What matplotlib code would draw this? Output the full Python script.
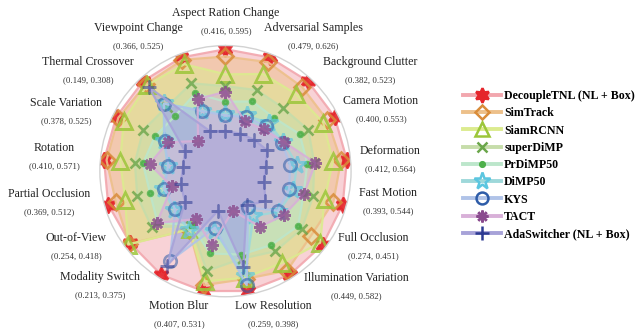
import numpy as np
import matplotlib
matplotlib.use("Agg")
import matplotlib.pyplot as plt
from matplotlib.lines import Line2D

plt.rcParams['font.family'] = ['Liberation Serif', 'DejaVu Serif']

# attribute names (clockwise from the top) and their (min, max) success ranges
attributes = ['Aspect Ration Change', 'Adversarial Samples', 'Background Clutter',
              'Camera Motion', 'Deformation', 'Fast Motion', 'Full Occlusion',
              'Illumination Variation', 'Low Resolution', 'Motion Blur',
              'Modality Switch', 'Out-of-View', 'Partial Occlusion', 'Rotation',
              'Scale Variation', 'Thermal Crossover', 'Viewpoint Change']
range_lo = [0.416, 0.479, 0.382, 0.400, 0.412, 0.393, 0.274, 0.449, 0.259,
            0.407, 0.213, 0.254, 0.369, 0.410, 0.378, 0.149, 0.366]
range_hi = [0.595, 0.626, 0.523, 0.553, 0.564, 0.544, 0.451, 0.582, 0.398,
            0.531, 0.375, 0.418, 0.512, 0.571, 0.525, 0.308, 0.525]

trackers = ['DecoupleTNL (NL + Box)', 'SimTrack', 'SiamRCNN', 'superDiMP',
            'PrDiMP50', 'DiMP50', 'KYS', 'TACT', 'AdaSwitcher (NL + Box)']

decoupletnl = [0.595, 0.626, 0.523, 0.553, 0.564, 0.544, 0.451, 0.582, 0.398,
               0.531, 0.375, 0.413, 0.512, 0.571, 0.525, 0.308, 0.525]
simtrack = [0.579, 0.617, 0.509, 0.538, 0.553, 0.526, 0.419, 0.574, 0.377,
            0.522, 0.270, 0.415, 0.498, 0.566, 0.521, 0.300, 0.520]
siamrcnn = [0.540, 0.594, 0.493, 0.529, 0.538, 0.509, 0.444, 0.559, 0.375,
            0.516, 0.268, 0.418, 0.481, 0.539, 0.510, 0.297, 0.511]
superdimp = [0.514, 0.563, 0.460, 0.498, 0.503, 0.487, 0.394, 0.537, 0.342,
             0.500, 0.262, 0.359, 0.459, 0.510, 0.471, 0.240, 0.471]
prdimp50 = [0.480, 0.541, 0.437, 0.480, 0.490, 0.469, 0.384, 0.525, 0.335,
            0.473, 0.260, 0.344, 0.436, 0.494, 0.447, 0.216, 0.450]
dimp50 = [0.454, 0.514, 0.424, 0.446, 0.471, 0.449, 0.332, 0.470, 0.372,
          0.438, 0.271, 0.303, 0.412, 0.445, 0.429, 0.249, 0.414]
kys = [0.450, 0.511, 0.417, 0.443, 0.458, 0.441, 0.329, 0.453, 0.388,
       0.433, 0.343, 0.300, 0.410, 0.444, 0.428, 0.248, 0.413]
tact = [0.502, 0.503, 0.410, 0.447, 0.505, 0.470, 0.345, 0.490, 0.259,
        0.460, 0.245, 0.346, 0.396, 0.481, 0.422, 0.150, 0.438]
adaswitcher = [0.416, 0.479, 0.386, 0.412, 0.412, 0.393, 0.295, 0.449, 0.356,
               0.407, 0.354, 0.275, 0.380, 0.415, 0.387, 0.292, 0.371]

scores = [decoupletnl, simtrack, siamrcnn, superdimp, prdimp50, dimp50, kys, tact, adaswitcher]

line_colors = ['#F2A7AE', '#EDC08A', '#DCEB8F', '#C6DDAA', '#BCE6CB',
               '#9ED8DA', '#B0C3E8', '#D8B0D8', '#A7A2D8']
marker_colors = ['#E5252B', '#D98C3A', '#9CC63A', '#6AA64A', '#4DB04A',
                 '#5CC6E0', '#2E5CA8', '#8A4B8E', '#2C3A92']
markers = [(6, 1, 0), 'D', '^', 'x', 'o', '*', 'o', (8, 2, 0), '+']
msizes = [11, 8, 11, 7, 3.5, 13, 9, 9, 10.5]
filled = [True, False, False, True, True, False, False, True, True]
marker_alpha = [0.9, 0.85, 0.85, 0.8, 0.8, 0.7, 0.55, 0.8, 0.55]

# each attribute is rescaled so its min sits at r0 and its max on the rim
r0 = 0.33
lo = np.array(range_lo)
hi = np.array(range_hi)
n = len(attributes)
theta = np.arange(n) * 2 * np.pi / n
theta_c = np.append(theta, theta[0])

fig = plt.figure(figsize=(6.36, 3.32), dpi=100)
ax = fig.add_axes([0.157, 0.106, 0.395, 0.757], projection='polar')
ax.set_theta_offset(np.pi / 2)
ax.set_theta_direction(-1)
ax.set_ylim(0, 1.03)
ax.set_xticks([])
ax.set_yticks([])
ax.grid(False)
ax.spines['polar'].set_color('#D2D2D2')
ax.spines['polar'].set_linewidth(1.0)

for i, name in enumerate(trackers):
    v = np.array(scores[i])
    r = r0 + (1 - r0) * (v - lo) / (hi - lo)
    r_c = np.append(r, r[0])
    ax.fill(theta_c, r_c, color=line_colors[i], alpha=0.5, lw=0)
    ax.plot(theta_c, r_c, color=line_colors[i], lw=1.6, alpha=0.9)
    ax.plot(theta, r, ls='none', marker=markers[i], ms=msizes[i],
            mec=marker_colors[i], mfc=marker_colors[i] if filled[i] else 'none',
            mew=1.9, alpha=marker_alpha[i])

# attribute labels with their ranges underneath
label_x = [226, 313, 370, 381, 390, 388, 373, 356, 273, 179, 100, 76, 49, 54, 66, 88, 138]
label_y = [13, 28, 62, 101, 151, 193, 238, 278, 306, 306, 277, 238, 194, 148, 103, 62, 28]
W, H = 636, 332
for k in range(n):
    fig.text(label_x[k] / W, 1 - label_y[k] / H, attributes[k],
             ha='center', va='center', fontsize=8.6, color='#222222')
    fig.text(label_x[k] / W, 1 - (label_y[k] + 18) / H,
             '(%.3f, %.3f)' % (range_lo[k], range_hi[k]),
             ha='center', va='center', fontsize=6.4, color='#333333')

handles = []
for i, name in enumerate(trackers):
    handles.append(Line2D([0], [0], color=line_colors[i], lw=2.8,
                          marker=markers[i], ms=msizes[i] * 0.95,
                          mec=marker_colors[i],
                          mfc=marker_colors[i] if filled[i] else 'none',
                          mew=1.8))
fig.legend(handles, trackers, loc='upper left', bbox_to_anchor=(463 / W, 1 - 90 / H),
           frameon=False, prop={'weight': 'bold', 'size': 8.6},
           handlelength=3.2, handletextpad=0.25, labelspacing=0.44,
           borderpad=0, borderaxespad=0)

fig.savefig('out.png', dpi=100)
